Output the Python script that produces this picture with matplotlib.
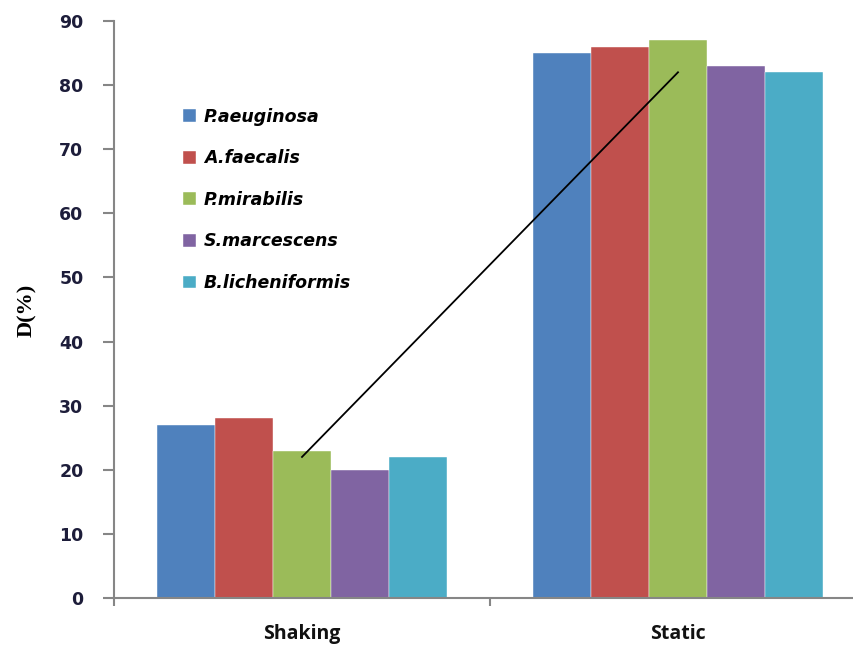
import numpy as np
import matplotlib.pyplot as plt

conditions = ["Shaking", "Static"]
strains = ["P.aeuginosa", "A.faecalis", "P.mirabilis", "S.marcescens", "B.licheniformis"]
d_values = [
    [27, 85],
    [28, 86],
    [23, 87],
    [20, 83],
    [22, 82],
]
trend = [22, 82]
colors = ["#4F81BD", "#C0504D", "#9BBB59", "#8064A2", "#4BACC6"]

fig = plt.figure(figsize=(8.54, 6.46), dpi=100)
ax = fig.add_axes([114 / 854, 1 - 598 / 646, (866 - 114) / 854, (598 - 21) / 646])

x = np.arange(len(conditions))
bw = 0.154
for i, (name, vals) in enumerate(zip(strains, d_values)):
    ax.bar(x + (i - 2) * bw, vals, bw, color=colors[i], label=name,
           edgecolor="white", linewidth=0.3)

ax.plot(x, trend, color="black", lw=1.3)

ax.set_xlim(-0.5, 1.5)
ax.set_ylim(0, 90)
ax.set_yticks(np.arange(0, 91, 10))
ax.set_yticklabels([str(v) for v in range(0, 91, 10)], fontsize=12.5,
                   fontweight="bold", color="#1d1d3a", family="DejaVu Sans")
ax.set_xticks([-0.5, 0.5, 1.5])
ax.set_xticklabels([])
ax.set_xticks(x, minor=True)
ax.set_xticklabels(conditions, minor=True, fontsize=14, fontweight="bold",
                   family="Open Sans", color="#111111")
ax.tick_params(axis="x", which="minor", length=0, pad=19)
ax.tick_params(axis="x", which="major", length=6, color="#868686", width=1.5)
ax.tick_params(axis="y", length=8, color="#868686", width=1.5, pad=14)

for s in ["top", "right"]:
    ax.spines[s].set_visible(False)
for s in ["left", "bottom"]:
    ax.spines[s].set_color("#868686")
    ax.spines[s].set_linewidth(1.5)

fig.text(27 / 854, 1 - 310 / 646, "D(%)", rotation=90, ha="center", va="center",
         fontsize=16, fontweight="bold", family="Liberation Serif")

leg = ax.legend(loc="upper left", bbox_to_anchor=(0.071, 0.877), frameon=False,
                prop={"family": "DejaVu Sans", "weight": "bold", "style": "oblique", "size": 12.5},
                handlelength=0.75, handleheight=0.75, handletextpad=0.45, labelspacing=1.36)

fig.savefig("out.png", dpi=100)
